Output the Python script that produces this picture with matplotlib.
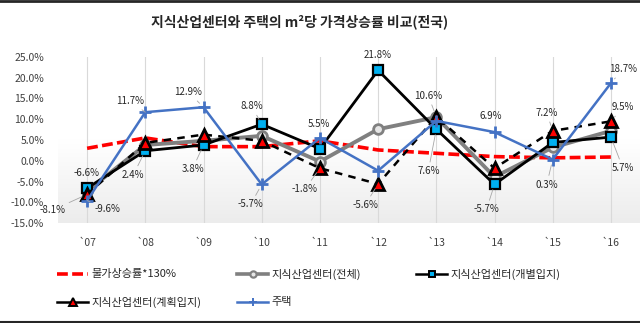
# coding=utf-8
import numpy as np
import matplotlib
matplotlib.use("Agg")
import matplotlib.pyplot as plt
from matplotlib.lines import Line2D
from matplotlib.colors import LinearSegmentedColormap

plt.rcParams['font.family'] = ['Noto Sans CJK KR', 'DejaVu Sans']

# data (%)
years = ["`07", "`08", "`09", "`10", "`11", "`12", "`13", "`14", "`15", "`16"]
cpi = [3.0, 5.5, 3.4, 3.4, 4.8, 2.6, 1.8, 1.0, 0.7, 0.9]
total = [-7.3, 3.8, 4.8, 6.0, -0.2, 7.6, 10.5, -3.9, 3.2, 7.2]
individual = [-6.6, 2.4, 3.8, 8.8, 2.9, 21.8, 7.6, -5.7, 4.4, 5.7]
planned = [-8.1, 4.3, 6.3, 4.8, -1.8, -5.6, 10.6, -1.8, 7.2, 9.5]
house = [-9.6, 11.7, 12.9, -5.7, 5.5, -2.4, 9.6, 6.9, 0.3, 18.7]

y_ticks = [-15, -10, -5, 0, 5, 10, 15, 20, 25]

# data labels: series, index, offset in pixels (dx, dy)
labels = [
    ("individual", 0, -1, 15), ("planned", 0, -35, -16), ("house", 0, 20, -8),
    ("house", 1, -15, 11), ("individual", 1, -12, -24),
    ("house", 2, -15, 15), ("individual", 2, -11, -24),
    ("individual", 3, -10, 18), ("house", 3, -11, -20),
    ("house", 4, -1, 14), ("planned", 4, -15, -21),
    ("individual", 5, 0, 15), ("planned", 5, -13, -21),
    ("planned", 6, -8, 21), ("individual", 6, -8, -42),
    ("house", 7, -4, 16), ("individual", 7, -8, -25),
    ("planned", 8, -6, 18), ("house", 8, -6, -25),
    ("house", 9, 12, 14), ("planned", 9, 12, 14), ("individual", 9, 12, -31),
]
series = {"individual": individual, "planned": planned, "house": house}

W, H = 640, 323
fig = plt.figure(figsize=(W / 100, H / 100), dpi=100)
ax = fig.add_axes([58 / W, 1 - 223 / H, (W - 58) / W, (223 - 57) / H])

x = np.arange(len(years))

# plot area background: white at top, light grey at bottom
cmap = LinearSegmentedColormap.from_list("bg", ["#ffffff", "#ffffff", "#ececec"])
ax.imshow(np.linspace(0, 1, 256).reshape(-1, 1), cmap=cmap, aspect='auto',
          extent=[-0.5, len(years) - 0.5, -15, 25], zorder=0)

ax.plot(x, cpi, color='#ff0000', lw=2.6, dashes=(3, 1.2), zorder=2)
ax.plot(x, total, color='#808080', lw=2.8, marker='o', ms=7, mfc='#e6e6e6',
        mec='#808080', mew=2, zorder=3)
ax.plot(x, individual, color='black', lw=2, marker='s', ms=7, mfc='#00b0f0',
        mec='black', mew=1.6, zorder=4)
ax.plot(x, planned, color='black', lw=1.8, dashes=(3, 2.5), marker='^', ms=8,
        mfc='#ff0000', mec='black', mew=2, zorder=5)
ax.plot(x, house, color='#4472c4', lw=1.8, marker='+', ms=9, mew=2, zorder=6)

for name, i, dx, dy in labels:
    v = series[name][i]
    lead = None
    if dx * dx + dy * dy > 300:
        lead = dict(arrowstyle='-', color='#a6a6a6', lw=0.6, shrinkA=1, shrinkB=4)
    ax.annotate("%.1f%%" % v, xy=(i, v), xytext=(dx, dy), textcoords='offset pixels',
                ha='center', va='center', fontsize=7, color='#262626',
                arrowprops=lead, zorder=8)

ax.set_xlim(-0.5, len(years) - 0.5)
ax.set_ylim(-15, 25)
ax.set_xticks(x)
ax.set_xticklabels(years)
ax.set_yticks(y_ticks)
ax.set_yticklabels(["%.1f%%" % t for t in y_ticks])
ax.tick_params(axis='both', length=0, labelsize=7.5, colors='#404040')
ax.tick_params(axis='x', pad=11)
ax.tick_params(axis='y', pad=10)
ax.grid(axis='x', color='#d9d9d9', lw=0.8)
ax.set_axisbelow(True)
for s in ax.spines.values():
    s.set_visible(False)

fig.text(300 / W, 1 - 22 / H, u"지식산업센터와 주택의 m²당 가격상승률 비교(전국)",
         ha='center', va='center', fontsize=10, fontweight='bold', color='#262626')

# legend, laid out like the original two rows
def px(xp, yp):
    return xp / W, 1 - yp / H

legend_items = [
    (57, 274, u"물가상승률*130%", dict(color='#ff0000', lw=2.6, dashes=(3, 1.2))),
    (237, 274, u"지식산업센터(전체)", dict(color='#808080', lw=2.6, marker='o', ms=4.5,
                                      mfc='#e6e6e6', mec='#808080', mew=1.6)),
    (416, 274, u"지식산업센터(개별입지)", dict(color='black', lw=1.8, marker='s', ms=4.5,
                                        mfc='#00b0f0', mec='black', mew=1.4)),
    (57, 302, u"지식산업센터(계획입지)", dict(color='black', lw=1.8, marker='^', ms=5.5,
                                        mfc='#ff0000', mec='black', mew=1.4)),
    (237, 302, u"주택", dict(color='#4472c4', lw=1.8, marker='+', ms=5.5, mew=1.4)),
]
for xp, yp, txt, style in legend_items:
    x0, y0 = px(xp, yp)
    x1, _ = px(xp + 31, yp)
    xm, _ = px(xp + 15.5, yp)
    kw = dict(style)
    marker_kw = {k: kw.pop(k) for k in ['marker', 'ms', 'mfc', 'mec', 'mew'] if k in kw}
    fig.add_artist(Line2D([x0, x1], [y0, y0], transform=fig.transFigure, **kw))
    if marker_kw:
        fig.add_artist(Line2D([xm], [y0], transform=fig.transFigure, ls='none',
                              marker=marker_kw['marker'], ms=marker_kw['ms'],
                              mfc=marker_kw.get('mfc', kw['color']),
                              mec=marker_kw.get('mec', kw['color']),
                              mew=marker_kw['mew']))
    fig.text(*px(xp + 34, yp), txt, ha='left', va='center', fontsize=8, color='#262626')

# dark frame lines at top and bottom
fig.add_artist(Line2D([0, 1], [1 - 1 / H, 1 - 1 / H], transform=fig.transFigure,
                      color='#262626', lw=2))
fig.add_artist(Line2D([0, 1], [1 - 321.5 / H, 1 - 321.5 / H], transform=fig.transFigure,
                      color='#262626', lw=1.5))

fig.savefig("out.png", dpi=100)
